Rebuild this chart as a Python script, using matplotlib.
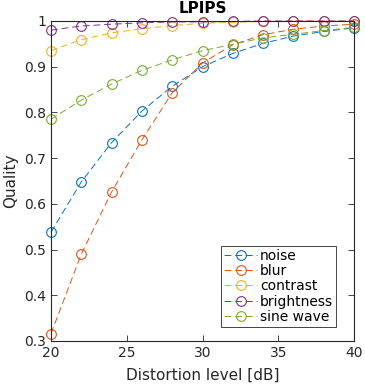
import numpy as np
import matplotlib
matplotlib.use("Agg")
import matplotlib.pyplot as plt

plt.rcParams["font.family"] = "DejaVu Sans"
plt.rcParams["xtick.direction"] = "in"
plt.rcParams["ytick.direction"] = "in"

levels = [20, 22, 24, 26, 28, 30, 32, 34, 36, 38, 40]
noise = [0.538, 0.648, 0.734, 0.803, 0.857, 0.900, 0.929, 0.951, 0.967, 0.977, 0.985]
blur = [0.316, 0.490, 0.626, 0.740, 0.843, 0.908, 0.948, 0.970, 0.982, 0.989, 0.993]
contrast = [0.935, 0.959, 0.974, 0.983, 0.990, 0.995, 0.997, 0.999, 1.000, 1.000, 1.000]
brightness = [0.980, 0.989, 0.993, 0.996, 0.998, 0.998, 0.999, 1.000, 1.000, 1.000, 1.000]
sine_wave = [0.785, 0.827, 0.862, 0.892, 0.915, 0.935, 0.949, 0.963, 0.971, 0.979, 0.986]

series = [("noise", noise, "#0072BD"),
          ("blur", blur, "#D95319"),
          ("contrast", contrast, "#EDB120"),
          ("brightness", brightness, "#7E2F8E"),
          ("sine wave", sine_wave, "#77AC30")]

fig = plt.figure(figsize=(3.65, 3.85), dpi=100)
ax = fig.add_axes([0.1397, 0.1143, 0.8302, 0.8312])

for name, vals, col in series:
    ax.plot(levels, vals, linestyle=(0, (7, 4)), linewidth=0.7, color=col,
            marker="o", markersize=7, markerfacecolor="none",
            markeredgewidth=0.8, label=name, clip_on=False)

ax.set_xlim(20, 40)
ax.set_ylim(0.3, 1)
ax.set_xticks([20, 25, 30, 35, 40])
ax.set_yticks([0.3, 0.4, 0.5, 0.6, 0.7, 0.8, 0.9, 1.0])
ax.set_yticklabels(["0.3", "0.4", "0.5", "0.6", "0.7", "0.8", "0.9", "1"])
ax.tick_params(which="both", top=True, right=True, labelsize=10,
               colors="#262626", length=4, width=0.6)
for s in ax.spines.values():
    s.set_linewidth(0.8)
    s.set_color("#262626")

ax.set_xlabel("Distortion level [dB]", fontsize=11, color="#262626", labelpad=6)
ax.set_ylabel("Quality", fontsize=11, color="#262626")
ax.set_title("LPIPS", fontsize=11, fontweight="bold", pad=6)

leg = ax.legend(loc="lower right", bbox_to_anchor=(0.941, 0.044), fontsize=10,
                numpoints=1, handlelength=2.4, handletextpad=0.2,
                borderpad=0.2, labelspacing=0.1, borderaxespad=0.0,
                fancybox=False, edgecolor="#262626", framealpha=1)
leg.get_frame().set_linewidth(0.6)

plt.savefig("out.png", dpi=100)
